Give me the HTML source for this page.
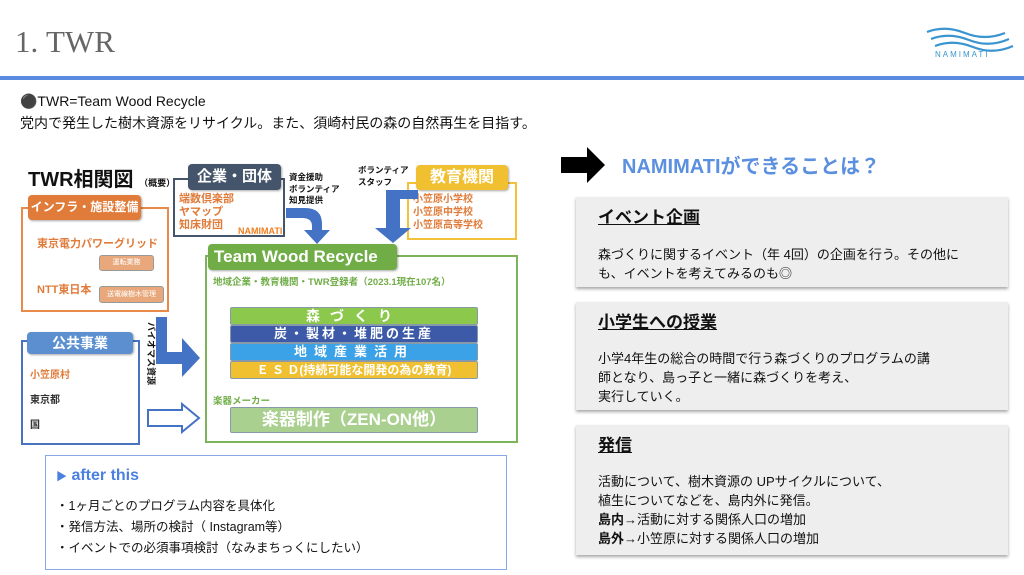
<!DOCTYPE html>
<html><head><meta charset="utf-8"><style>
*{margin:0;padding:0;box-sizing:border-box}
body{width:1024px;height:575px;background:#fff;position:relative;overflow:hidden;font-family:"Liberation Sans","Noto Sans CJK JP",sans-serif;color:#111}
.a{position:absolute;white-space:nowrap}
.hd{position:absolute;border-radius:4px;color:#fff;font-weight:bold;text-align:center;box-shadow:1px 1px 2px rgba(0,0,0,.35)}
.bar{position:absolute;left:230px;width:248px;color:#fff;font-weight:bold;text-align:center;border:1px solid #8899aa;border-radius:2px}
.card{position:absolute;left:576px;width:432px;background:#eeeeee;box-shadow:0 2px 3px rgba(0,0,0,.35)}
.card h3{position:absolute;left:22px;top:6px;font-size:17px;text-decoration:underline;font-weight:bold}
.card p{position:absolute;left:22px;font-size:13px;line-height:19px;white-space:nowrap}
</style></head><body>
<div class="a" style="left:15px;top:24px;font-family:'Liberation Serif','Noto Serif CJK SC',serif;font-size:31px;color:#666">1.&nbsp;TWR</div>
<svg class="a" style="left:925px;top:25px" width="90" height="40" viewBox="0 0 90 40">
<g fill="none" stroke="#3a94cf" stroke-width="2.2"><path d="M2 7 Q20 0 40 8 T80 8"/><path d="M6 14 Q24 7 44 15 T84 14"/><path d="M10 21 Q28 14 48 22 T88 21"/></g></svg>
<div class="a" style="left:935px;top:50px;font-size:8px;letter-spacing:2px;color:#3a94cf">NAMIMATI</div>
<div class="a" style="left:0;top:76px;width:1024px;height:4px;background:#5b8be0"></div>
<div class="a" style="left:20px;top:93px;font-size:14px">⚫TWR=Team Wood Recycle</div>
<div class="a" style="left:20px;top:113px;font-size:14px">党内で発生した樹木資源をリサイクル。また、須崎村民の森の自然再生を目指す。</div>

<div class="a" style="left:28px;top:163px;font-size:20px;font-weight:bold">TWR相関図 <span style="font-size:9px">（概要）</span></div>

<!-- infra -->
<div class="a" style="left:21px;top:207px;width:148px;height:105px;border:2px solid #e98a4a"></div>
<div class="hd" style="left:28px;top:195px;width:113px;height:25px;background:#e07b39;font-size:12px;line-height:25px">インフラ・施設整備</div>
<div class="a" style="left:37px;top:235px;font-size:11px;color:#e07b39;font-weight:bold">東京電力パワーグリッド</div>
<div class="a" style="left:99px;top:255px;width:55px;height:16px;background:#e8a87c;border:1px solid #999;border-radius:3px;font-size:7px;color:#fff;text-align:center;line-height:14px">運転業務</div>
<div class="a" style="left:37px;top:281px;font-size:11px;color:#e07b39;font-weight:bold">NTT東日本</div>
<div class="a" style="left:99px;top:286px;width:65px;height:17px;background:#e8a87c;border:1px solid #999;border-radius:3px;font-size:7px;color:#fff;text-align:center;line-height:15px">送電線樹木管理</div>

<!-- public -->
<div class="a" style="left:21px;top:340px;width:119px;height:105px;border:2px solid #4a72c0"></div>
<div class="hd" style="left:27px;top:332px;width:106px;height:22px;background:#5b8fd0;font-size:14px;line-height:22px">公共事業</div>
<div class="a" style="left:30px;top:366px;font-size:10px;color:#e07b39;font-weight:bold">小笠原村</div>
<div class="a" style="left:30px;top:391px;font-size:10px;color:#333;font-weight:bold">東京都</div>
<div class="a" style="left:30px;top:416px;font-size:10px;color:#333;font-weight:bold">国</div>

<!-- kigyo -->
<div class="a" style="left:173px;top:178px;width:112px;height:59px;border:2px solid #44546a"></div>
<div class="hd" style="left:188px;top:164px;width:93px;height:26px;background:#44546a;font-size:15px;line-height:26px">企業・団体</div>
<div class="a" style="left:179px;top:193px;font-size:11px;line-height:13px;color:#e07b39;font-weight:bold">端数倶楽部<br>ヤマップ<br>知床財団</div>
<div class="a" style="left:238px;top:226px;font-size:9px;color:#f08020;font-weight:bold">NAMIMATI</div>
<div class="a" style="left:289px;top:172px;font-size:8.5px;line-height:11.5px;font-weight:bold">資金援助<br>ボランティア<br>知見提供</div>
<div class="a" style="left:358px;top:165px;font-size:8.5px;line-height:11.5px;font-weight:bold">ボランティア<br>スタッフ</div>

<!-- kyoiku -->
<div class="a" style="left:407px;top:182px;width:110px;height:58px;border:2px solid #f2c23a"></div>
<div class="hd" style="left:416px;top:165px;width:92px;height:25px;background:#f0c030;font-size:16px;line-height:25px">教育機関</div>
<div class="a" style="left:413px;top:193px;font-size:10px;line-height:13px;color:#e07b39;font-weight:bold">小笠原小学校<br>小笠原中学校<br>小笠原高等学校</div>

<!-- arrows -->
<svg class="a" style="left:0;top:0" width="540" height="460">
<g fill="#4472c4">
<path d="M286 208 L305 208 Q322 208 322 224 L322 230 L330 230 L317 244 L304 230 L312 230 L312 226 Q312 218 302 218 L286 218 Z"/>
<path d="M418 190 L418 199 L400 199 L400 228 L411 228 L393 243 L375 228 L386 228 L386 190 Z"/>
<path d="M156 317 L167 317 L167 352 L182 352 L182 338 L200 358 L182 377 L182 364 L156 364 Z"/>
</g>
<path d="M148 410 L182 410 L182 404 L199 418 L182 432 L182 426 L148 426 Z" fill="#fff" stroke="#4472c4" stroke-width="2"/>
<text x="0" y="0" font-size="9" font-weight="bold" font-family="Liberation Sans,Noto Sans CJK JP,sans-serif" fill="#111" transform="translate(148,322) rotate(90)">バイオマス資源</text>
</svg>

<!-- TWR box -->
<div class="a" style="left:205px;top:255px;width:313px;height:188px;border:2px solid #7db35a"></div>
<div class="hd" style="left:208px;top:244px;width:189px;height:26px;background:#70ad47;font-size:17px;line-height:26px;text-align:left;padding-left:6px">Team Wood Recycle</div>
<div class="a" style="left:213px;top:274px;font-size:9.5px;color:#70ad47;font-weight:bold">地域企業・教育機関・TWR登録者（2023.1現在107名）</div>
<div class="bar" style="top:307px;height:18px;background:#8cc84b;font-size:14px;line-height:16px;letter-spacing:10px">森づくり</div>
<div class="bar" style="top:325px;height:18px;background:#3c5aa8;font-size:13px;line-height:16px;letter-spacing:3px">炭・製材・堆肥の生産</div>
<div class="bar" style="top:343px;height:18px;background:#3ba2e8;font-size:13px;line-height:16px;letter-spacing:7px">地域産業活用</div>
<div class="bar" style="top:361px;height:18px;background:#f0c030;font-size:12px;line-height:16px">Ｅ Ｓ Ｄ(持続可能な開発の為の教育)</div>
<div class="a" style="left:213px;top:393px;font-size:9.5px;color:#70ad47;font-weight:bold">楽器メーカー</div>
<div class="bar" style="top:407px;height:26px;background:#a9d08e;font-size:17px;line-height:24px">楽器制作（ZEN-ON他）</div>

<!-- after this -->
<div class="a" style="left:45px;top:455px;width:462px;height:115px;border:1.5px solid #8aa8e6"></div>
<div class="a" style="left:56px;top:467px;font-size:16px;font-weight:bold;color:#4a80e0"><span style="font-size:11px">▶</span> after this</div>
<div class="a" style="left:56px;top:496px;font-size:12.5px;line-height:21px">・1ヶ月ごとのプログラム内容を具体化<br>・発信方法、場所の検討（ Instagram等）<br>・イベントでの必須事項検討（なみまちっくにしたい）</div>

<!-- right -->
<svg class="a" style="left:561px;top:147px" width="46" height="36"><path d="M0 10 L26 10 L26 0 L44 18 L26 36 L26 26 L0 26 Z" fill="#000"/></svg>
<div class="a" style="left:622px;top:150px;font-size:20px;font-weight:bold;color:#5b8fe0">NAMIMATIができることは？</div>

<div class="card" style="top:197px;height:90px"><h3>イベント企画</h3><p style="top:48px">森づくりに関するイベント（年 4回）の企画を行う。その他に<br>も、イベントを考えてみるのも◎</p></div>
<div class="card" style="top:302px;height:108px"><h3>小学生への授業</h3><p style="top:47px">小学4年生の総合の時間で行う森づくりのプログラムの講<br>師となり、島っ子と一緒に森づくりを考え、<br>実行していく。</p></div>
<div class="card" style="top:425px;height:130px"><h3>発信</h3><p style="top:47px">活動について、樹木資源の UPサイクルについて、<br>植生についてなどを、島内外に発信。<br><b>島内</b>→活動に対する関係人口の増加<br><b>島外</b>→小笠原に対する関係人口の増加</p></div>
</body></html>
